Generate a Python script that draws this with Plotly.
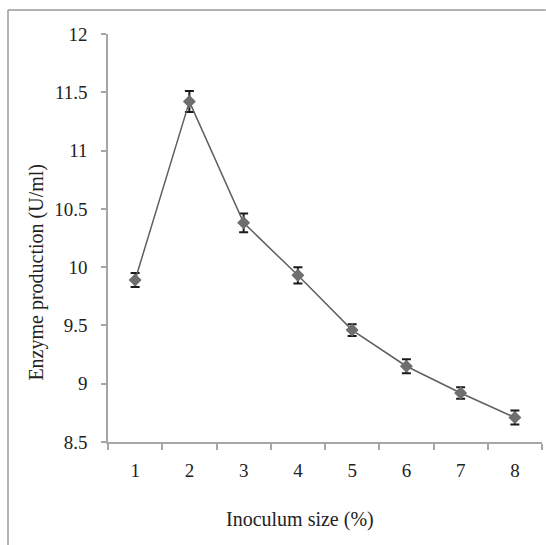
import plotly.graph_objects as go

inoculum = [1, 2, 3, 4, 5, 6, 7, 8]
enzyme = [9.89, 11.42, 10.38, 9.93, 9.46, 9.15, 8.92, 8.71]
err = [0.06, 0.09, 0.08, 0.07, 0.05, 0.06, 0.05, 0.06]
y_ticks = [8.5, 9, 9.5, 10, 10.5, 11, 11.5, 12]
y_ticktext = ["8.5", "9", "9.5", "10", "10.5", "11", "11.5", "12"]

FONT = "Liberation Serif"
AXC = "#a6a6a6"
TXT = "#222222"

fig = go.Figure()
fig.add_trace(go.Scatter(
    x=inoculum, y=enzyme, mode="lines+markers",
    line=dict(color="#5f5f5f", width=1.5),
    marker=dict(symbol="diamond", size=10, color="#6e6e6e"),
    error_y=dict(type="data", array=err, visible=True, color="#1a1a1a", thickness=2, width=4.5),
    showlegend=False,
))

fig.update_layout(
    width=546, height=545,
    margin=dict(l=108, r=4, t=34, b=103),
    paper_bgcolor="white", plot_bgcolor="white",
    font=dict(family=FONT, size=19, color=TXT),
    xaxis=dict(
        range=[0.5, 8.5], tickvals=inoculum, ticktext=[str(v) for v in inoculum],
        ticks="outside", ticklen=10, tickcolor="rgba(0,0,0,0)",
        showline=True, linecolor=AXC, linewidth=1.5, showgrid=False, zeroline=False,
        minor=dict(ticks="outside", tick0=0.5, dtick=1, ticklen=6, tickcolor=AXC, tickwidth=1.5, showgrid=False),
        tickfont=dict(family=FONT, size=19, color=TXT),
    ),
    yaxis=dict(
        range=[8.5, 12], tickvals=y_ticks, ticktext=y_ticktext,
        ticks="outside", ticklen=5, tickcolor=AXC, tickwidth=1.5,
        ticklabelstandoff=10,
        showline=True, linecolor=AXC, linewidth=1.5, showgrid=False, zeroline=False,
        tickfont=dict(family=FONT, size=19, color=TXT),
    ),
    annotations=[
        dict(text="Inoculum size (%)", xref="paper", yref="paper", x=0.442, y=-0.189,
             showarrow=False, xanchor="center", yanchor="middle",
             font=dict(family=FONT, size=20, color=TXT)),
        dict(text="Enzyme production (U/ml)", xref="paper", yref="paper", x=-0.1645, y=0.4167,
             showarrow=False, xanchor="center", yanchor="middle", textangle=-90,
             font=dict(family=FONT, size=20, color=TXT)),
    ],
    shapes=[
        dict(type="line", xref="paper", yref="paper", x0=-0.2304, y0=-0.27, x1=-0.2304, y1=1.0588,
             line=dict(color="#9a9a9a", width=1.5), layer="below"),
        dict(type="line", xref="paper", yref="paper", x0=-0.2304, y0=1.0588, x1=1.009, y1=1.0588,
             line=dict(color="#9a9a9a", width=1.5), layer="below"),
    ],
)

fig.write_html("out.html")
